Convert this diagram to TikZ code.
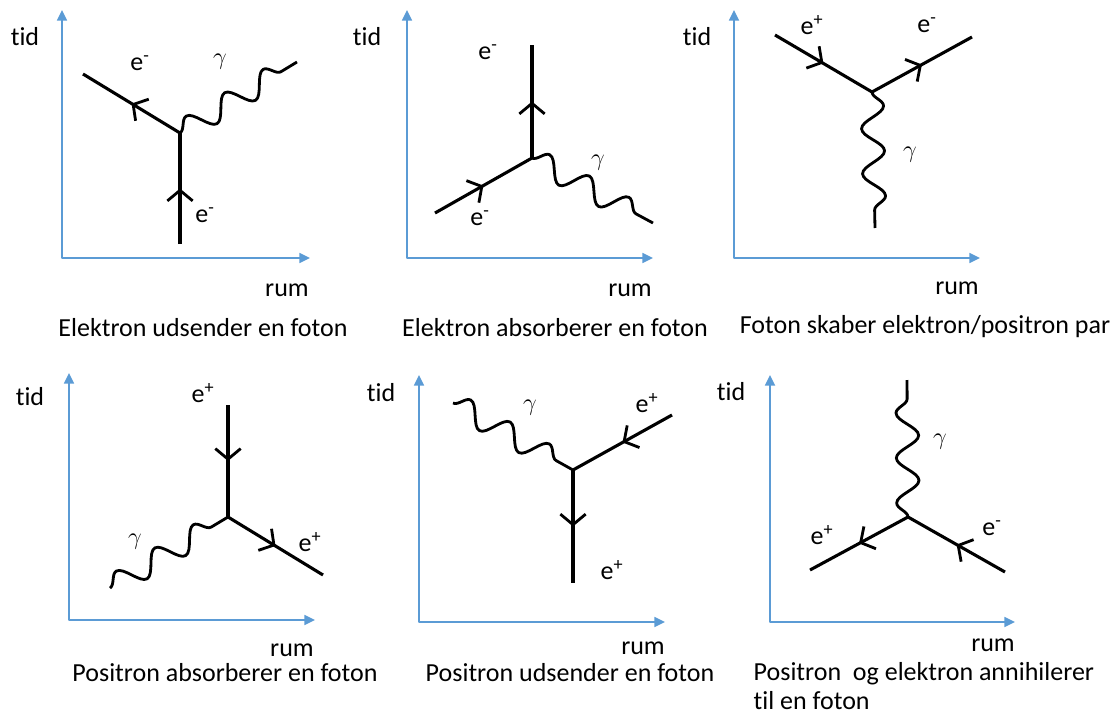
\documentclass[tikz,border=0pt]{standalone}
\usepackage{fontspec}
\setmainfont[Ligatures=NoCommon]{Carlito}
\usetikzlibrary{arrows.meta,decorations.pathmorphing,decorations.markings}
\definecolor{axisblue}{RGB}{91,155,213}
\begin{document}
\begin{tikzpicture}[x=0.025cm, y=-0.025cm, font=\fontsize{18.5pt}{21pt}\selectfont, line join=round,
	axis/.style={draw=axisblue, line width=1.5pt, {Triangle[length=7.5pt,width=7pt]}-{Triangle[length=7.5pt,width=7pt]}},
	fermion/.style={line width=2.2pt, postaction={decorate},
		decoration={markings, mark=at position 0.5 with {\arrow[line width=2pt]{Straight Barb[length=7.5pt,width=18pt]}}}},
	photon/.style={line width=2pt, decorate, decoration={snake, amplitude=8pt, segment length=32pt}}]
	\useasboundingbox (0,0) rectangle (1115,716);
	% axes tid/rum
	\foreach \n/\ox/\oy/\ty/\rx/\lx/\ly/\mx/\my in {1/62/258/10/310/25/37/287/290, 2/407/258/10/653/367/37/630/290,
		3/734/258/10/980/697/37/957/288, 4/69/620/373/315/30/397/292/650,
		5/419/622/375/665/381/393/643/648, 6/770/622/375/1015/731/392/993/645}{
		\coordinate (o\n) at (\ox,\oy);
		\coordinate (t\n) at (\ox,\ty);
		\coordinate (r\n) at (\rx,\oy);
		\draw[axis] (t\n)--(o\n)--(r\n);
		\node (tid\n) at (\lx,\ly) {tid};
		\node (rum\n) at (\mx,\my) {rum};
	}
	% 1: elektron udsender en foton
	\coordinate (v1) at (180,133); \coordinate (a1) at (180,244);
	\coordinate (b1) at (83,74); \coordinate (c1) at (297,62);
	\draw[fermion] (a1)--(v1); \draw[fermion] (v1)--(b1);
	\draw[photon] (v1)--(c1);
	\node (ea1) at (205,215) {e\textsuperscript{-}};
	\node (eb1) at (140,63) {e\textsuperscript{-}};
	\node (g1) at (220,62) {$\gamma$};
	\node (cap1) at (203,328) {Elektron udsender en foton};
	% 2: elektron absorberer en foton
	\coordinate (v2) at (532,158); \coordinate (a2) at (435,213);
	\coordinate (b2) at (532,45); \coordinate (c2) at (653,223);
	\draw[fermion] (a2)--(v2); \draw[fermion] (v2)--(b2);
	\draw[photon] (v2)--(c2);
	\node (ea2) at (480,218) {e\textsuperscript{-}};
	\node (eb2) at (488,52) {e\textsuperscript{-}};
	\node (g2) at (598,163) {$\gamma$};
	\node (cap2) at (555,328) {Elektron absorberer en foton};
	% 3: foton skaber par
	\coordinate (v3) at (872,92); \coordinate (a3) at (775,35);
	\coordinate (b3) at (972,37); \coordinate (c3) at (875,228);
	\draw[fermion] (a3)--(v3); \draw[fermion] (v3)--(b3);
	\draw[photon] (v3)--(c3);
	\node (ea3) at (812,25) {e\textsuperscript{+}};
	\node (eb3) at (927,25) {e\textsuperscript{-}};
	\node (g3) at (910,155) {$\gamma$};
	\node (cap3) at (925,327) {Foton skaber elektron/positron par};
	% 4: positron absorberer en foton
	\coordinate (v4) at (228,517); \coordinate (a4) at (228,405);
	\coordinate (b4) at (323,575); \coordinate (c4) at (110,588);
	\draw[fermion] (a4)--(v4); \draw[fermion] (v4)--(b4);
	\draw[photon] (c4)--(v4);
	\node (ea4) at (203,393) {e\textsuperscript{+}};
	\node (eb4) at (310,542) {e\textsuperscript{+}};
	\node (g4) at (135,542) {$\gamma$};
	\node (cap4) at (225,673) {Positron absorberer en foton};
	% 5: positron udsender en foton
	\coordinate (v5) at (573,470); \coordinate (a5) at (672,415);
	\coordinate (b5) at (573,583); \coordinate (c5) at (453,403);
	\draw[fermion] (a5)--(v5); \draw[fermion] (v5)--(b5);
	\draw[photon] (c5)--(v5);
	\node (ea5) at (647,403) {e\textsuperscript{+}};
	\node (eb5) at (612,570) {e\textsuperscript{+}};
	\node (g5) at (530,408) {$\gamma$};
	\node (cap5) at (570,673) {Positron udsender en foton};
	% 6: annihilation
	\coordinate (v6) at (908,517); \coordinate (a6) at (1005,572);
	\coordinate (b6) at (810,570); \coordinate (c6) at (907,380);
	\draw[fermion] (a6)--(v6); \draw[fermion] (v6)--(b6);
	\draw[photon] (v6)--(c6);
	\node (ea6) at (992,528) {e\textsuperscript{-}};
	\node (eb6) at (822,535) {e\textsuperscript{+}};
	\node (g6) at (940,442) {$\gamma$};
	\node (cap6) at (752,686) [anchor=west, align=left, inner sep=1pt] {Positron~ og elektron annihilerer\\til en foton};
\end{tikzpicture}
\end{document}
